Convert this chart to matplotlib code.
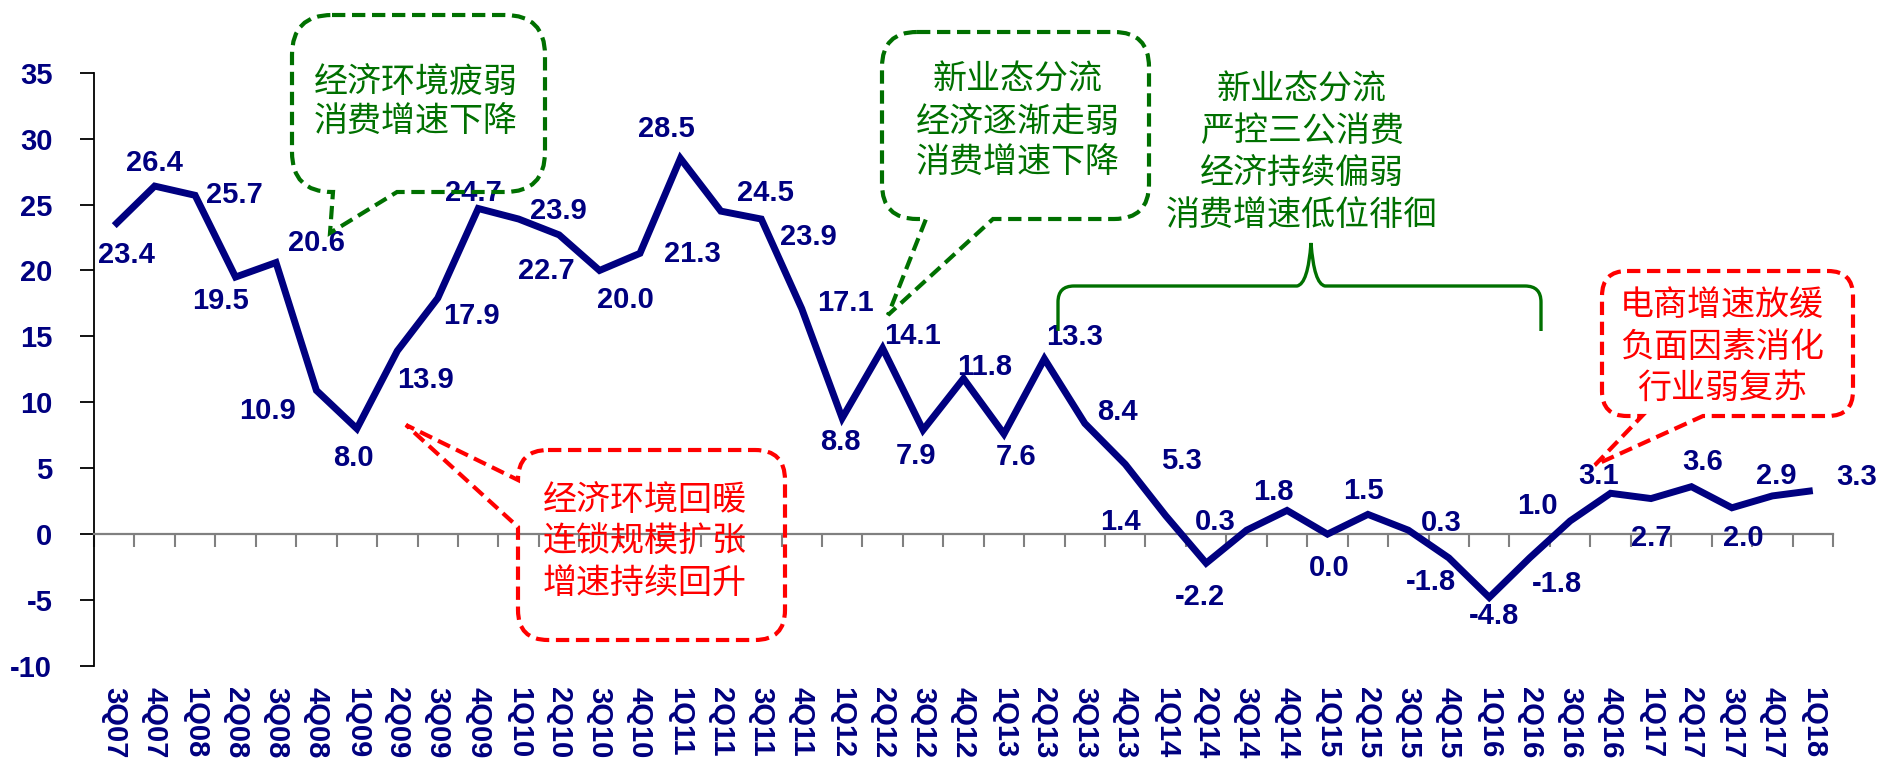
import matplotlib
matplotlib.use("Agg")
import matplotlib.pyplot as plt
import matplotlib.transforms as mtransforms
from matplotlib.path import Path
from matplotlib.patches import PathPatch

# ---- data -----------------------------------------------------------------
quarters = ['3Q07', '4Q07', '1Q08', '2Q08', '3Q08', '4Q08', '1Q09', '2Q09',
            '3Q09', '4Q09', '1Q10', '2Q10', '3Q10', '4Q10', '1Q11', '2Q11',
            '3Q11', '4Q11', '1Q12', '2Q12', '3Q12', '4Q12', '1Q13', '2Q13',
            '3Q13', '4Q13', '1Q14', '2Q14', '3Q14', '4Q14', '1Q15', '2Q15',
            '3Q15', '4Q15', '1Q16', '2Q16', '3Q16', '4Q16', '1Q17', '2Q17',
            '3Q17', '4Q17', '1Q18']
growth = [23.4, 26.4, 25.7, 19.5, 20.6, 10.9, 8.0, 13.9, 17.9, 24.7,
          23.9, 22.7, 20.0, 21.3, 28.5, 24.5, 23.9, 17.1, 8.8, 14.1,
          7.9, 11.8, 7.6, 13.3, 8.4, 5.3, 1.4, -2.2, 0.3, 1.8,
          0.0, 1.5, 0.3, -1.8, -4.8, -1.8, 1.0, 3.1, 2.7, 3.6,
          2.0, 2.9, 3.3]
y_ticks = [-10, -5, 0, 5, 10, 15, 20, 25, 30, 35]

note_weak = ['经济环境疲弱', '消费增速下降']
note_recover = ['经济环境回暖', '连锁规模扩张', '增速持续回升']
note_newformat = ['新业态分流', '经济逐渐走弱', '消费增速下降']
note_lowlevel = ['新业态分流', '严控三公消费', '经济持续偏弱', '消费增速低位徘徊']
note_ecommerce = ['电商增速放缓', '负面因素消化', '行业弱复苏']

# ---- styling --------------------------------------------------------------
NAVY = '#000080'
GREEN = '#007000'
RED = '#FF0000'
CJK = ['Noto Sans CJK SC', 'DejaVu Sans']

plt.rcParams['font.family'] = ['Liberation Sans', 'DejaVu Sans']
plt.rcParams['axes.unicode_minus'] = False

# data-label offsets (pixels, right / down) relative to each point
label_offsets = [(12, 29), (0, -23), (39, 0), (-15, 24), (40, -20), (-49, 21),
                 (-3, 29), (28, 29), (34, 18), (-5, -15), (40, -8), (-13, 36),
                 (26, 30), (52, 1), (-14, -29), (45, -18), (47, 18), (44, -6),
                 (-2, 24), (30, -12), (-7, 26), (21, -12), (12, 23), (30, -22),
                 (33, -11), (56, -3), (-45, 6), (-6, 34), (-31, -8), (-14, -18),
                 (2, 34), (-4, -23), (33, -7), (-18, 24), (5, 19), (27, 26),
                 (-33, -15), (-12, -17), (0, 39), (11, -25), (11, 30), (4, -20),
                 (44, -14)]

W, H = 1882, 764
fig = plt.figure(figsize=(W / 100, H / 100), dpi=100)
fig.patch.set_facecolor('white')

# layout transform: pixel coordinates measured from the top-left corner
px = mtransforms.Affine2D().scale(1 / W, -1 / H).translate(0, 1) + fig.transFigure

ax = fig.add_axes([94 / W, (H - 666) / H, (1833 - 94) / W, (666 - 72.7) / H])
xs = list(range(len(quarters)))
ax.plot(xs, growth, color=NAVY, lw=5, solid_joinstyle='miter',
        solid_capstyle='butt', zorder=3)

ax.set_xlim(-0.5, len(quarters) - 0.5)
ax.set_ylim(y_ticks[0], y_ticks[-1])

for side in ('top', 'right'):
    ax.spines[side].set_visible(False)
ax.spines['bottom'].set_position(('data', 0))
ax.spines['bottom'].set_color('#808080')
ax.spines['bottom'].set_linewidth(1.6)
ax.spines['left'].set_color('black')
ax.spines['left'].set_linewidth(1.3)

# category boundaries as tick marks on the zero line
ax.set_xticks([i - 0.5 for i in range(len(quarters) + 1)])
ax.tick_params(axis='x', length=9, width=1.5, color='#808080', direction='out',
               labelbottom=False)

ax.set_yticks(y_ticks)
ax.set_yticklabels([str(t) for t in y_ticks])
ax.tick_params(axis='y', length=10, width=1.3, color='black', direction='out',
               pad=20, labelsize=21, labelcolor=NAVY)
for lab in ax.get_yticklabels():
    lab.set_fontweight('bold')

# quarter labels sit below the plot area
sec = ax.secondary_xaxis(0.0)
sec.set_xticks(xs)
sec.set_xticklabels(quarters)
sec.tick_params(axis='x', length=0, pad=15, labelsize=21, labelcolor=NAVY,
                rotation=-90)
sec.spines['bottom'].set_visible(False)
for lab in sec.get_xticklabels():
    lab.set_fontweight('bold')

# value labels
for i, v in enumerate(growth):
    dx, dy = label_offsets[i]
    ax.annotate(f'{v:.1f}', (i, v), xytext=(dx, -dy), textcoords='offset pixels',
                ha='center', va='center', fontsize=21, fontweight='bold',
                color=NAVY, zorder=4)


# ---- annotations ----------------------------------------------------------
def callout(box, r, side, base_a, base_b, tip, color):
    """Rounded dashed box with a pointer on the bottom or left edge."""
    x0, y0, x1, y1 = box
    M, L, C = Path.MOVETO, Path.LINETO, Path.CURVE3
    verts = [(x0 + r, y0), (x1 - r, y0), (x1, y0), (x1, y0 + r),
             (x1, y1 - r), (x1, y1), (x1 - r, y1)]
    codes = [M, L, C, C, L, C, C]
    if side == 'bottom':
        verts += [(base_a, y1), tip, (base_b, y1)]
        codes += [L, L, L]
    verts += [(x0 + r, y1), (x0, y1), (x0, y1 - r)]
    codes += [L, C, C]
    if side == 'left':
        verts += [(x0, base_a), tip, (x0, base_b)]
        codes += [L, L, L]
    verts += [(x0, y0 + r), (x0, y0), (x0 + r, y0)]
    codes += [L, C, C]
    patch = PathPatch(Path(verts, codes), transform=px, fill=False,
                      edgecolor=color, lw=3, linestyle=(0, (3.2, 1.6)),
                      capstyle='butt', joinstyle='miter')
    fig.add_artist(patch)


def stacked_text(xc, yc, lines, pitch, color, size=24.5):
    n = len(lines)
    for k, line in enumerate(lines):
        y = yc + (k - (n - 1) / 2) * pitch
        fig.text(xc, y, line, transform=px, ha='center', va='center',
                 fontsize=size, color=color, family=CJK)


callout((292, 15, 545, 192), 40, 'bottom', 397, 333, (330, 233), GREEN)
stacked_text(416, 102, note_weak, 40, GREEN)

callout((882, 32, 1149, 219), 35, 'bottom', 993, 926, (888, 315), GREEN)
stacked_text(1018, 122, note_newformat, 41.5, GREEN)

stacked_text(1302, 152.5, note_lowlevel, 41.7, GREEN)

callout((518, 450, 785, 640), 30, 'left', 527, 480, (406, 425), RED)
stacked_text(645, 542, note_recover, 41.5, RED)

callout((1602, 271, 1853, 416), 25, 'bottom', 1703, 1642, (1595, 465), RED)
stacked_text(1722, 347, note_ecommerce, 41.5, RED)

# brace spanning the low-growth period
M, L, C = Path.MOVETO, Path.LINETO, Path.CURVE3
brace = Path([(1058, 331), (1058, 302), (1058, 286), (1074, 286), (1297, 286),
              (1308, 284), (1311, 243), (1314, 284), (1325, 286), (1525, 286),
              (1541, 286), (1541, 302), (1541, 331)],
             [M, L, C, C, L, C, C, C, C, L, C, C, L])
fig.add_artist(PathPatch(brace, transform=px, fill=False, edgecolor=GREEN, lw=2.4))

fig.savefig('out.png', dpi=100, facecolor='white')
